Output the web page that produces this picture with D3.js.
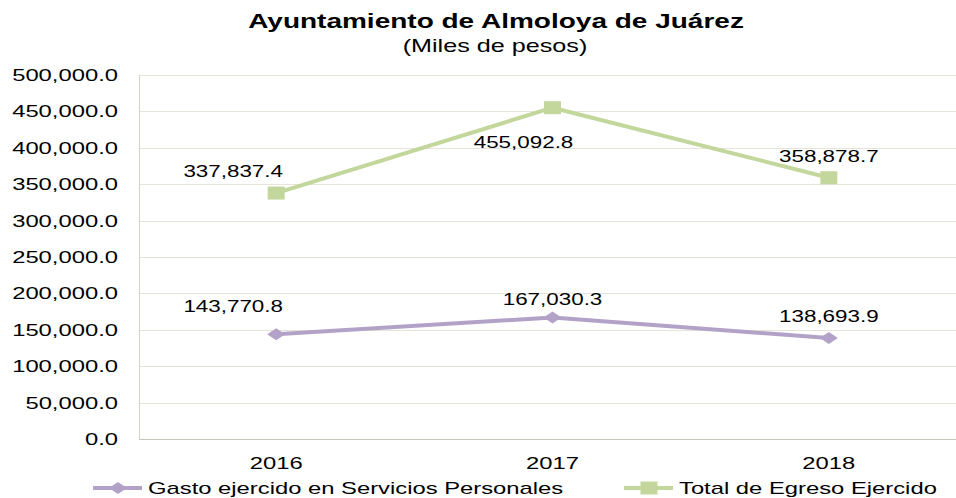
<!DOCTYPE html>
<html>
<head>
<meta charset="utf-8">
<script src="https://cdn.jsdelivr.net/npm/d3@7"></script>
<style>
  body { margin: 0; background: #fff; }
  text { font-family: "Liberation Sans", Arial, sans-serif; fill: #000; }
</style>
</head>
<body>
<svg id="chart" width="956" height="498"></svg>
<script>
// data
var years = ["2016", "2017", "2018"];
var gastoPersonal = [143770.8, 167030.3, 138693.9];
var egresoTotal = [337837.4, 455092.8, 358878.7];
var yTicks = [0, 50000, 100000, 150000, 200000, 250000, 300000, 350000, 400000, 450000, 500000];
var seriesNames = ["Gasto ejercido en Servicios Personales", "Total de Egreso Ejercido"];

// label offsets (layout only)
var gastoLabelOff = [[-43, -22], [0, -12], [0, -16]];
var egresoLabelOff = [[-43, -16], [-29, 40], [0, -16]];

var SX = 1.4; // text in the picture is stretched sideways
var svg = d3.select("#chart");
var pLeft = 139, pTop = 75, pBottom = 439, pRight = 967;

var x = d3.scaleBand().domain(years).range([pLeft - 1, pRight]);
var y = d3.scaleLinear().domain([0, 500000]).range([pBottom, pTop]);
var fmt = d3.format(",.1f");

function label(g, px, py, str, size, anchor, weight) {
  var t = g.append("g").attr("transform", "translate(" + px + "," + py + ")");
  t.append("text")
    .attr("transform", "scale(" + SX + ",1)")
    .attr("text-anchor", anchor || "middle")
    .attr("font-size", size)
    .attr("font-weight", weight || "normal")
    .text(str);
  return t;
}

// grid
svg.append("g").selectAll("line").data(yTicks.slice(1)).enter().append("line")
  .attr("x1", pLeft).attr("x2", pRight)
  .attr("y1", function(d){ return Math.round(y(d)) + 0.5; })
  .attr("y2", function(d){ return Math.round(y(d)) + 0.5; })
  .attr("stroke", "#e6e4d9").attr("stroke-width", 1);

// axes lines
svg.append("line").attr("x1", pLeft + 0.5).attr("x2", pLeft + 0.5).attr("y1", pTop).attr("y2", pBottom)
  .attr("stroke", "#d4d2c8");
svg.append("line").attr("x1", pLeft).attr("x2", pRight).attr("y1", pBottom + 0.5).attr("y2", pBottom + 0.5)
  .attr("stroke", "#c8c6bc");

// y labels
var yl = svg.append("g");
yTicks.forEach(function(d){ label(yl, 118, y(d) + 6, fmt(d), 17, "end"); });

// x labels
var xl = svg.append("g");
years.forEach(function(d){ label(xl, x(d) + x.bandwidth()/2, 469, d, 17, "middle"); });

// title
label(svg, 496, 28, "Ayuntamiento de Almoloya de Juárez", 20, "middle", "bold");
label(svg, 495, 52, "(Miles de pesos)", 18, "middle");

var cx = function(d, i){ return x(years[i]) + x.bandwidth()/2; };
var line = d3.line().x(function(d, i){ return cx(d, i); }).y(function(d){ return y(d); });

var diamond = "M0,-6L9,0L0,6L-9,0Z";
var square = "M-8.5,-6.5L8.5,-6.5L8.5,6.5L-8.5,6.5Z";

function drawSeries(vals, color, shape, offs) {
  var g = svg.append("g");
  g.append("path").datum(vals).attr("d", line).attr("fill", "none")
    .attr("stroke", color).attr("stroke-width", 4).attr("stroke-linejoin", "round");
  g.selectAll(".m").data(vals).enter().append("path")
    .attr("d", shape).attr("fill", color)
    .attr("transform", function(d, i){ return "translate(" + cx(d, i) + "," + y(d) + ")"; });
  vals.forEach(function(d, i){
    label(g, cx(d, i) + offs[i][0], y(d) + offs[i][1], fmt(d), 16, "middle");
  });
}
drawSeries(egresoTotal, "#c3d69b", square, egresoLabelOff);
drawSeries(gastoPersonal, "#b3a2c7", diamond, gastoLabelOff);

// legend
var lg = svg.append("g");
var legItems = [
  { name: seriesNames[0], color: "#b3a2c7", shape: diamond, x: 93 },
  { name: seriesNames[1], color: "#c3d69b", shape: square, x: 624 }
];
legItems.forEach(function(it){
  lg.append("line").attr("x1", it.x).attr("x2", it.x + 49).attr("y1", 488).attr("y2", 488)
    .attr("stroke", it.color).attr("stroke-width", 4);
  lg.append("path").attr("d", it.shape).attr("fill", it.color)
    .attr("transform", "translate(" + (it.x + 25) + ",488)");
  label(lg, it.x + 55, 494, it.name, 17, "start");
});
</script>
</body>
</html>
